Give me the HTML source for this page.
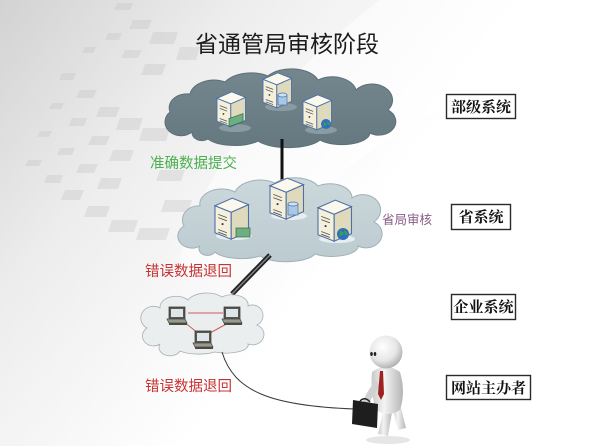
<!DOCTYPE html>
<html><head><meta charset="utf-8"><style>
html,body{margin:0;padding:0;background:#fff;}
svg{display:block;}
.t{font-family:"Liberation Sans","Noto Sans CJK SC",sans-serif;}
.b{font-family:"Liberation Serif","Noto Serif CJK SC",serif;font-weight:bold;}
</style></head><body>
<svg width="600" height="446" viewBox="0 0 600 446" xmlns="http://www.w3.org/2000/svg">
<defs>
<linearGradient id="bg" x1="0" y1="0" x2="330" y2="260" gradientUnits="userSpaceOnUse">
<stop offset="0" stop-color="#d2d2d2"/>
<stop offset="0.45" stop-color="#ededed"/>
<stop offset="1" stop-color="#ffffff"/>
</linearGradient>
<linearGradient id="cl1" x1="0" y1="0" x2="0" y2="1">
<stop offset="0" stop-color="#74878f"/>
<stop offset="1" stop-color="#65787f"/>
</linearGradient>
<linearGradient id="cl2" x1="0" y1="0" x2="0" y2="1">
<stop offset="0" stop-color="#cbd8dc"/>
<stop offset="1" stop-color="#bccbd0"/>
</linearGradient>
<radialGradient id="head" cx="0.4" cy="0.35" r="0.7">
<stop offset="0" stop-color="#ffffff"/>
<stop offset="0.6" stop-color="#e6e6e6"/>
<stop offset="1" stop-color="#a9a9a9"/>
</radialGradient>
<linearGradient id="body" x1="0" y1="0" x2="1" y2="0">
<stop offset="0" stop-color="#c8c8c8"/>
<stop offset="0.4" stop-color="#f4f4f4"/>
<stop offset="1" stop-color="#b5b5b5"/>
</linearGradient>
<g id="srv">
<polygon points="0,9 15,15 15,40 0,34" fill="#f4f0dc" stroke="#4d6fa8" stroke-width="1"/>
<polygon points="15,15 31,8 31,33 15,40" fill="#e0dabd" stroke="#4d6fa8" stroke-width="1"/>
<polygon points="0,9 16,2 31,8 15,15" fill="#fbf9ee" stroke="#4d6fa8" stroke-width="1"/>
<path d="M3,17 l8,3 M3,20 l8,3 M3,31 l8,3 M3,33.5 l8,3" stroke="#555" stroke-width="0.8"/>
<circle cx="7" cy="26" r="1" fill="#444"/>
</g>
<g id="lap">
<polygon points="3,0 19,0 19,12 3,12" fill="#5a5a52" stroke="#333" stroke-width="0.7"/>
<rect x="5" y="2" width="12" height="8" fill="#dfe6ea"/>
<polygon points="1,12 19,12 21,16 3,16" fill="#9a9a8c" stroke="#444" stroke-width="0.7"/>
<polygon points="3,16 21,16 21,18 3,18" fill="#4a4a44"/>
</g>
</defs>

<!-- background -->
<rect width="600" height="446" fill="#fff"/>
<rect width="600" height="446" fill="url(#bg)"/>
<path d="M600,0 L380,0 Q300,60 230,150 Q190,210 175,275 L270,250 Q330,170 420,120 Q520,70 600,55 Z" fill="#ffffff" opacity="0.5"/>
<g fill="#c4c4c4" opacity="0.35">
<polygon points="117,3 133,3 130,10 114,10"/>
<polygon points="133,20 152,20 148,29 129,29"/>
<polygon points="153,32 178,32 174,44 149,44"/>
<polygon points="180,47 200,47 196,60 176,60"/>
<polygon points="108,33 122,33 119,40 105,40"/>
<polygon points="125,50 142,50 138,58 121,58"/>
<polygon points="145,64 166,64 162,75 141,75"/>
<polygon points="85,47 96,47 93,53 82,53"/>
<polygon points="62,73 76,73 73,80 59,80"/>
<polygon points="80,90 97,90 93,98 76,98"/>
<polygon points="100,107 120,107 116,117 96,117"/>
<polygon points="120,118 143,118 139,130 116,130"/>
<polygon points="143,128 170,128 166,141 139,141"/>
<polygon points="52,103 64,103 61,109 49,109"/>
<polygon points="72,118 87,118 84,126 69,126"/>
<polygon points="92,136 110,136 106,145 88,145"/>
<polygon points="113,150 134,150 130,161 109,161"/>
<polygon points="40,131 52,131 49,137 37,137"/>
<polygon points="60,148 75,148 72,155 57,155"/>
<polygon points="80,164 98,164 94,173 76,173"/>
<polygon points="101,178 122,178 118,189 97,189"/>
<polygon points="28,160 42,160 39,166 25,166"/>
<polygon points="47,175 63,175 60,183 44,183"/>
<polygon points="65,190 84,190 80,200 61,200"/>
<polygon points="88,206 110,206 106,217 84,217"/>
<polygon points="112,220 138,220 134,232 108,232"/>
<polygon points="140,228 170,228 166,240 136,240"/>
<polygon points="165,200 192,200 188,212 161,212"/>
<polygon points="160,170 185,170 181,181 156,181"/>
</g>

<!-- title -->
<text class="t" x="195" y="52" font-size="23" fill="#1c1c1c">省通管局审核阶段</text>

<!-- top cloud -->
<path d="M192,132 A14,12 0 0 1 170,112 A18,14 0 0 1 190,94 A24,16 0 0 1 225,82 A30,18 0 0 1 268,76 A28,16 0 0 1 318,80 A24,16 0 0 1 356,90 A18,14 0 0 1 388,110 A16,13 0 0 1 370,133 A28,12 0 0 1 320,140 A34,12 0 0 1 258,141 A30,12 0 0 1 208,139 A10,8 0 0 1 192,132 Z" fill="url(#cl1)" stroke="#5d6f77" stroke-width="1"/>

<!-- connector top -->
<line x1="282" y1="139" x2="282" y2="184" stroke="#111" stroke-width="3"/>

<!-- top servers -->
<ellipse cx="235" cy="128" rx="16" ry="4" fill="#8a9ba2"/>
<use href="#srv" transform="translate(217,90) scale(0.92)"/>
<rect x="229" y="118" width="14" height="8" fill="#6fae82" stroke="#2d6a44" stroke-width="0.7" transform="skewY(-20) translate(0,84)"/>
<ellipse cx="281" cy="107" rx="16" ry="4" fill="#8a9ba2"/>
<use href="#srv" transform="translate(263,71) scale(0.92)"/>
<rect x="278" y="95" width="9" height="10" fill="#a8c8e8" stroke="#4d6fa8" stroke-width="0.7"/>
<ellipse cx="282.5" cy="95" rx="4.5" ry="2" fill="#cfe2f4" stroke="#4d6fa8" stroke-width="0.7"/>
<ellipse cx="321" cy="130" rx="16" ry="4" fill="#8a9ba2"/>
<use href="#srv" transform="translate(303,93) scale(0.92)"/>
<circle cx="326" cy="124" r="5" fill="#2f6fc0"/>
<path d="M323,121 q2,2 0,5 q3,0 4,-2 z M327,121 q2,1 3,4 l-2,0 z" fill="#3aa04a"/>

<!-- green label -->
<text class="t" x="150" y="168" font-size="14.5" fill="#4caf50">准确数据提交</text>

<!-- middle cloud -->
<path d="M200,246 A14,12 0 0 1 184,226 A16,14 0 0 1 200,206 A22,15 0 0 1 235,192 A26,16 0 0 1 275,183 A26,15 0 0 1 318,186 A22,14 0 0 1 352,198 A16,14 0 0 1 374,222 A14,12 0 0 1 358,246 A26,10 0 0 1 315,254 A30,11 0 0 1 260,256 A28,10 0 0 1 215,252 A8,6 0 0 1 200,246 Z" fill="url(#cl2)" stroke="#9fb1b8" stroke-width="1"/>

<!-- middle servers -->
<ellipse cx="234" cy="236" rx="18" ry="4" fill="#e8eef0"/>
<use href="#srv" transform="translate(215,196) scale(1.08)"/>
<rect x="236" y="228" width="14" height="9" fill="#6fae82" stroke="#2d6a44" stroke-width="0.7"/>
<ellipse cx="289" cy="216" rx="18" ry="4" fill="#e8eef0"/>
<use href="#srv" transform="translate(270,176) scale(1.08)"/>
<rect x="288" y="204" width="10" height="11" fill="#a8c8e8" stroke="#4d6fa8" stroke-width="0.7"/>
<ellipse cx="293" cy="204" rx="5" ry="2" fill="#cfe2f4" stroke="#4d6fa8" stroke-width="0.7"/>
<ellipse cx="337" cy="239" rx="18" ry="4" fill="#e8eef0"/>
<use href="#srv" transform="translate(318,198) scale(1.08)"/>
<circle cx="343" cy="234" r="6" fill="#2f6fc0"/>
<path d="M339,230 q2,3 0,6 q4,0 5,-3 z M344,230 q3,1 4,5 l-3,0 z" fill="#3aa04a"/>

<!-- purple label -->
<text class="t" x="382" y="224" font-size="12.5" fill="#8a5c86">省局审核</text>

<!-- diagonal connector -->
<line x1="270" y1="255" x2="232" y2="294" stroke="#222" stroke-width="5"/>
<line x1="270" y1="255" x2="232" y2="294" stroke="#8a8a8a" stroke-width="1.3"/>

<!-- red label 1 -->
<text class="t" x="145" y="276" font-size="14.5" fill="#c83232">错误数据退回</text>

<!-- bottom cloud -->
<path d="M160,344 A10,9 0 0 1 147,328 A12,11 0 0 1 160,308 A16,11 0 0 1 188,300 A20,11 0 0 1 222,297 A16,10 0 0 1 248,306 A10,10 0 0 1 257,325 A10,9 0 0 1 248,344 A22,8 0 0 1 215,352 A24,8 0 0 1 180,351 A8,6 0 0 1 160,344 Z" fill="#eaeeef" stroke="#a6b0b4" stroke-width="0.8"/>
<g stroke="#d05a5a" stroke-width="1">
<line x1="188" y1="313" x2="223" y2="313"/>
<line x1="184" y1="322" x2="198" y2="333"/>
<line x1="230" y1="322" x2="210" y2="333"/>
</g>
<use href="#lap" transform="translate(166,307)"/>
<use href="#lap" transform="translate(221,307)"/>
<use href="#lap" transform="translate(192,331)"/>

<!-- curve -->
<path d="M222,352 C234,392 272,406 355,409" fill="none" stroke="#3a3a3a" stroke-width="1"/>

<!-- red label 2 -->
<text class="t" x="145" y="391" font-size="14.5" fill="#c83232">错误数据退回</text>

<!-- person -->
<ellipse cx="388" cy="440" rx="22" ry="4" fill="#e6e6e6"/>
<path d="M384,408 L378,434 L388,436 L392,412 Z" fill="url(#body)"/>
<path d="M392,406 L398,430 L406,428 L400,404 Z" fill="url(#body)"/>
<path d="M372,372 Q386,362 400,372 Q406,392 400,410 Q388,418 376,410 Q370,392 372,372 Z" fill="url(#body)"/>
<path d="M376,380 Q366,392 362,404 L368,406 Q372,396 380,386 Z" fill="#d0d0d0"/>
<polygon points="380,371 383,371 384,394 381,400 378,394" fill="#9e2020"/>
<circle cx="386" cy="352" r="16.5" fill="url(#head)"/>
<ellipse cx="371.5" cy="354" rx="1.3" ry="2" fill="#222"/>
<ellipse cx="375" cy="354" rx="1.3" ry="2" fill="#222"/>
<polygon points="353,400 378,404 377,428 352,424" fill="#1e1e1e"/>
<path d="M360,401 q5,-5 10,1" fill="none" stroke="#222" stroke-width="1.5"/>

<!-- right labels -->
<g fill="#fff" stroke="#2a2a2a" stroke-width="1.4">
<rect x="446.5" y="94.5" width="69" height="24"/>
<rect x="451.5" y="204.5" width="59" height="25"/>
<rect x="451.5" y="294.5" width="64" height="25"/>
<rect x="446.5" y="375.5" width="84" height="24"/>
</g>
<g class="b" font-size="15" fill="#111" text-anchor="middle">
<text x="481" y="112">部级系统</text>
<text x="481" y="222">省系统</text>
<text x="483.5" y="312">企业系统</text>
<text x="488.5" y="393">网站主办者</text>
</g>
</svg>
</body></html>
